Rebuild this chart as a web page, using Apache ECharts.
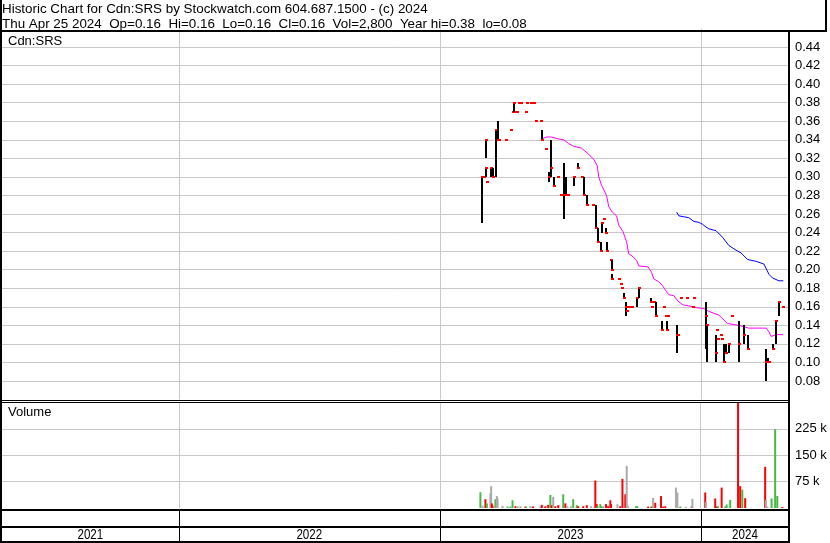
<!DOCTYPE html>
<html><head><meta charset="utf-8">
<script src="https://cdn.jsdelivr.net/npm/echarts@6/dist/echarts.min.js"></script>
<style>html,body{margin:0;padding:0;background:#fff}#c{width:830px;height:543px}</style>
</head><body><div id="c"></div>
<script>
// ---------------- DATA ----------------
var titleLine1 = 'Historic Chart for Cdn:SRS by Stockwatch.com 604.687.1500 - (c) 2024';
var titleLine2 = 'Thu Apr 25 2024  Op=0.16  Hi=0.16  Lo=0.16  Cl=0.16  Vol=2,800  Year hi=0.38  lo=0.08';
var symbolLabel = 'Cdn:SRS';
var volumeLabel = 'Volume';
var yearLabels = ['2021', '2022', '2023', '2024'];
var yearStarts = ['2022-01-01', '2023-01-01', '2024-01-01'];
var axisStart = '2021-04-29';
var axisEnd = '2024-05-03';

var priceDates = ['2023-03-01','2023-03-03','2023-03-06','2023-03-07','2023-03-08','2023-03-13','2023-03-16','2023-03-20','2023-03-23','2023-03-24',
'2023-04-03','2023-04-10','2023-04-13','2023-04-14','2023-04-18','2023-04-19','2023-04-21','2023-04-25','2023-05-02','2023-05-03',
'2023-05-09','2023-05-12','2023-05-15','2023-05-23','2023-05-24','2023-05-30','2023-06-02','2023-06-06','2023-06-09','2023-06-15',
'2023-06-19','2023-06-23','2023-06-26','2023-06-29','2023-07-07','2023-07-13','2023-07-18','2023-07-21','2023-07-26','2023-08-03',
'2023-08-07','2023-08-10','2023-08-14','2023-08-16','2023-08-18','2023-08-21','2023-08-23','2023-08-28','2023-08-29','2023-08-30',
'2023-09-08','2023-09-11','2023-09-12','2023-09-15','2023-09-18','2023-09-19','2023-09-20','2023-09-22','2023-09-26','2023-10-04',
'2023-10-06','2023-10-23','2023-10-24','2023-10-27','2023-10-30','2023-11-08','2023-11-10','2023-11-13','2023-11-15','2023-11-16',
'2023-11-28','2023-11-30','2023-12-04','2023-12-13','2023-12-21','2023-12-22','2024-01-08','2024-01-09','2024-01-22','2024-01-24',
'2024-01-25','2024-01-29','2024-01-31','2024-02-02','2024-02-05','2024-02-09','2024-02-14','2024-02-23','2024-03-01','2024-03-06',
'2024-04-01','2024-04-03','2024-04-05','2024-04-11','2024-04-15','2024-04-19','2024-04-25'];
var priceHigh = [0.30,0.30,0.34,0.31,0.295,0.31,0.31,0.35,0.36,0.34,
0.34,0.35,0.37,0.38,0.37,0.37,0.38,0.38,0.37,0.38,
0.38,0.38,0.36,0.36,0.35,0.33,0.305,0.34,0.30,0.30,
0.28,0.315,0.30,0.28,0.30,0.315,0.30,0.30,0.28,0.27,
0.27,0.245,0.23,0.25,0.255,0.245,0.23,0.21,0.21,0.195,
0.19,0.185,0.18,0.175,0.165,0.155,0.16,0.16,0.16,0.17,
0.18,0.17,0.16,0.165,0.165,0.145,0.16,0.15,0.145,0.15,
0.14,0.13,0.17,0.17,0.16,0.17,0.165,0.14,0.13,0.135,
0.125,0.13,0.125,0.12,0.12,0.12,0.15,0.145,0.14,0.13,
0.115,0.105,0.10,0.12,0.145,0.165,0.16];
var priceLow = [0.25,0.30,0.32,0.30,0.295,0.30,0.30,0.30,0.34,0.34,
0.34,0.35,0.37,0.37,0.37,0.37,0.38,0.38,0.37,0.38,
0.38,0.38,0.36,0.36,0.34,0.33,0.295,0.30,0.29,0.30,
0.28,0.255,0.28,0.28,0.29,0.31,0.30,0.28,0.27,0.27,
0.245,0.23,0.22,0.24,0.255,0.24,0.22,0.21,0.20,0.19,
0.19,0.185,0.18,0.17,0.15,0.155,0.16,0.16,0.16,0.16,
0.17,0.165,0.16,0.165,0.15,0.135,0.16,0.15,0.135,0.15,
0.11,0.13,0.17,0.17,0.16,0.17,0.115,0.10,0.10,0.135,
0.125,0.13,0.125,0.10,0.11,0.11,0.15,0.10,0.12,0.115,
0.08,0.10,0.10,0.115,0.12,0.15,0.16];
var priceClose = [0.30,0.30,0.34,0.31,0.295,0.31,0.30,0.35,0.34,0.34,
0.34,0.35,0.37,0.38,0.37,0.37,0.38,0.38,0.37,0.38,
0.38,0.38,0.36,0.36,0.34,0.33,0.30,0.31,0.29,0.30,
0.28,0.28,0.28,0.28,0.30,0.31,0.30,0.28,0.27,0.27,
0.245,0.23,0.22,0.25,0.255,0.24,0.22,0.21,0.20,0.19,
0.19,0.185,0.18,0.17,0.16,0.155,0.16,0.16,0.16,0.17,
0.18,0.165,0.16,0.165,0.15,0.135,0.16,0.15,0.135,0.15,
0.13,0.13,0.17,0.17,0.16,0.17,0.15,0.14,0.11,0.135,
0.125,0.13,0.125,0.10,0.11,0.12,0.15,0.12,0.13,0.115,
0.10,0.10,0.10,0.115,0.145,0.165,0.16];

var volDates = ['2023-02-27','2023-03-02','2023-03-06','2023-03-08','2023-03-13','2023-03-14','2023-03-15','2023-03-16','2023-03-20','2023-03-22',
'2023-03-23','2023-03-30','2023-04-06','2023-04-10','2023-04-13','2023-04-17','2023-04-20','2023-04-24','2023-05-01','2023-05-02',
'2023-05-08','2023-05-11','2023-05-12','2023-05-22','2023-05-24','2023-05-29','2023-06-02','2023-06-05','2023-06-07','2023-06-09',
'2023-06-12','2023-06-16','2023-06-23','2023-06-26','2023-06-29','2023-07-04','2023-07-07','2023-07-12','2023-07-14','2023-07-21',
'2023-07-26','2023-08-01','2023-08-07','2023-08-09','2023-08-10','2023-08-14','2023-08-16','2023-08-18','2023-08-22','2023-08-25',
'2023-08-28','2023-08-29','2023-09-07','2023-09-11','2023-09-14','2023-09-18','2023-09-20','2023-09-22','2023-10-03','2023-10-05',
'2023-10-20','2023-10-24','2023-10-26','2023-10-27','2023-10-30','2023-11-07','2023-11-10','2023-11-13','2023-11-28','2023-11-30',
'2023-12-04','2023-12-12','2023-12-20','2023-12-21','2024-01-08','2024-01-09','2024-01-22','2024-01-24','2024-01-26','2024-01-31',
'2024-02-05','2024-02-07','2024-02-12','2024-02-23','2024-02-26','2024-02-29','2024-03-04','2024-04-01','2024-04-02','2024-04-04',
'2024-04-10','2024-04-15','2024-04-18','2024-04-25'];
var volumes = [45000,7000,25000,13000,42000,62000,13000,7000,25000,34000,
28000,6000,4000,4000,22000,5000,5000,5000,4000,4000,
5000,5000,4000,5000,9000,5000,9000,37000,8000,32000,
5000,8000,39000,13000,5000,5000,25000,8000,5000,5000,
8000,5000,78000,11000,6000,11000,5000,5000,11000,5000,
22000,11000,11000,5000,83000,39000,120000,5000,5000,5000,
4000,4000,4000,29000,15000,34000,4000,5000,58000,44000,
4000,3000,4000,26000,44000,17000,27000,4000,5000,58000,
4000,10000,23000,330000,62000,52000,28000,117000,22000,4000,
27000,224000,34000,2800];
// 1 = close up, -1 = close down, 0 = unchanged
var volDir = [1,0,-1,1,0,0,-1,-1,1,0,
0,0,1,1,1,-1,0,0,-1,1,
0,0,-1,0,-1,-1,-1,1,-1,0,
-1,-1,1,-1,0,0,1,1,-1,-1,
-1,0,-1,-1,1,1,1,0,-1,-1,
-1,-1,0,-1,-1,-1,0,0,1,1,
-1,1,-1,0,-1,-1,-1,-1,0,0,
1,0,-1,0,-1,0,-1,-1,1,-1,
1,1,1,-1,-1,1,-1,-1,0,0,
1,1,1,-1];

var maShortDates = ['2023-05-23','2023-05-30','2023-06-06','2023-06-15','2023-06-23','2023-06-30','2023-07-07','2023-07-18','2023-07-27','2023-08-04',
'2023-08-09','2023-08-11','2023-08-15','2023-08-22','2023-08-25','2023-08-30','2023-09-05','2023-09-08','2023-09-14','2023-09-19',
'2023-09-22','2023-09-28','2023-10-03','2023-10-06','2023-10-19','2023-10-24','2023-10-27','2023-11-03','2023-11-08','2023-11-14',
'2023-11-17','2023-11-24','2023-11-30','2023-12-07','2023-12-15','2023-12-26','2024-01-05','2024-01-12','2024-01-26','2024-02-07',
'2024-02-23','2024-03-08','2024-04-01','2024-04-05','2024-04-08','2024-04-15','2024-04-25'];
var maShort = [0.341,0.343,0.343,0.341,0.340,0.336,0.333,0.331,0.325,0.319,
0.312,0.300,0.291,0.280,0.268,0.262,0.258,0.248,0.241,0.230,
0.217,0.214,0.210,0.204,0.203,0.197,0.190,0.187,0.183,0.176,
0.173,0.172,0.166,0.162,0.161,0.159,0.158,0.155,0.151,0.142,
0.140,0.137,0.137,0.133,0.128,0.130,0.130];

var maLongDates = ['2023-11-28','2023-12-01','2023-12-08','2023-12-15','2023-12-22','2023-12-29','2024-01-03','2024-01-08','2024-01-12','2024-01-22',
'2024-01-31','2024-02-09','2024-02-19','2024-02-26','2024-03-06','2024-03-18','2024-03-29','2024-04-05','2024-04-10','2024-04-19','2024-04-25'];
var maLong = [0.262,0.258,0.257,0.256,0.252,0.251,0.249,0.246,0.244,0.242,
0.235,0.226,0.221,0.218,0.211,0.209,0.206,0.195,0.191,0.188,0.188];

// ---------------- BUILD ----------------
var FONT = '"Liberation Sans", Arial, sans-serif';
var ohlcData = priceDates.map(function (d, i) { return [d, priceHigh[i], priceLow[i], priceClose[i]]; });
var volData = volDates.map(function (d, i) {
  var c = volDir[i] > 0 ? '#44bb44' : (volDir[i] < 0 ? '#ff0000' : '#aaaaaa');
  return { value: [d, volumes[i]], itemStyle: { color: c } };
});
var maShortData = maShortDates.map(function (d, i) { return [d, maShort[i]]; });
var maLongData = maLongDates.map(function (d, i) { return [d, maLong[i]]; });
var dividerData = yearStarts.map(function (d) { return [d, 0]; });
var yearData = yearLabels.map(function (y) { return [y + '-01-01', (+y + 1) + '-01-01', 0]; });

function renderOHLC(params, api) {
  var t = api.value(0);
  var pH = api.coord([t, api.value(1)]);
  var pL = api.coord([t, api.value(2)]);
  var pC = api.coord([t, api.value(3)]);
  var x = Math.round(pH[0]);
  var ch = [];
  var yh = Math.round(pH[1]), yl = Math.round(pL[1]);
  if (yl - yh >= 1) ch.push({ type: 'rect', shape: { x: x - 1, y: yh, width: 2, height: yl - yh }, style: { fill: '#000' } });
  ch.push({ type: 'rect', shape: { x: x - 1, y: Math.round(pC[1]) - 1, width: 3, height: 2 }, style: { fill: '#ff0000' } });
  return { type: 'group', children: ch };
}
function dividerRenderer(color) {
  return function (params, api) {
    var cs = params.coordSys;
    var x = Math.round(api.coord([api.value(0), 0])[0]) + 0.5;
    return { type: 'line', shape: { x1: x, y1: cs.y, x2: x, y2: cs.y + cs.height }, style: { stroke: color, lineWidth: 1 } };
  };
}
function renderYear(params, api) {
  var cs = params.coordSys;
  var x0 = Math.max(cs.x, api.coord([api.value(0), 0])[0]);
  var x1 = Math.min(cs.x + cs.width, api.coord([api.value(1), 0])[0]);
  return { type: 'text', x: (x0 + x1) / 2, y: cs.y + cs.height - 6.8, scaleX: 0.8,
    style: { text: yearLabels[params.dataIndex], x: 0, y: 0,
    align: 'center', verticalAlign: 'middle', fill: '#000', font: '14.5px ' + FONT } };
}

var hiddenX = function (gi) {
  return { type: 'time', gridIndex: gi, min: axisStart, max: axisEnd, axisLine: { show: false }, axisTick: { show: false },
    axisLabel: { show: false }, splitLine: { show: false } };
};

var chart = echarts.init(document.getElementById('c'), null, { renderer: 'canvas' });
chart.setOption({
  animation: false,
  backgroundColor: '#fff',
  grid: [
    { left: 2, right: 41, top: 28.44, height: 371.12 },
    { left: 2, right: 41, top: 402.5, height: 105.5 },
    { left: 2, right: 41, top: 510.5, height: 31 }
  ],
  xAxis: [hiddenX(0), hiddenX(1), hiddenX(2)],
  yAxis: [
    { type: 'value', gridIndex: 0, position: 'right', min: 0.06, max: 0.46, interval: 0.02,
      axisLine: { show: false }, axisTick: { show: false },
      axisLabel: { margin: 6, color: '#000', fontSize: 13, fontFamily: FONT, showMinLabel: false, showMaxLabel: false,
        formatter: function (v) { return v.toFixed(2); } },
      splitLine: { show: true, showMinLine: false, showMaxLine: false, lineStyle: { color: '#c8c8c8', width: 1 } } },
    { type: 'value', gridIndex: 1, position: 'right', min: 0, max: 300000, interval: 75000,
      axisLine: { show: false }, axisTick: { show: false },
      axisLabel: { margin: 6, color: '#000', fontSize: 13, fontFamily: FONT, showMinLabel: false, showMaxLabel: false,
        formatter: function (v) { return (v / 1000) + ' k'; } },
      splitLine: { show: true, showMinLine: false, showMaxLine: false, lineStyle: { color: '#c8c8c8', width: 1 } } },
    { type: 'value', gridIndex: 2, min: 0, max: 1, show: false }
  ],
  series: [
    { type: 'custom', xAxisIndex: 0, yAxisIndex: 0, z: 1, data: dividerData, renderItem: dividerRenderer('#c8c8c8'), silent: true },
    { type: 'custom', xAxisIndex: 1, yAxisIndex: 1, z: 1, data: dividerData, renderItem: dividerRenderer('#c8c8c8'), silent: true },
    { type: 'custom', xAxisIndex: 2, yAxisIndex: 2, z: 1, data: dividerData, renderItem: dividerRenderer('#000'), silent: true },
    { type: 'custom', xAxisIndex: 2, yAxisIndex: 2, z: 3, data: yearData, encode: { x: [0, 1], y: 2 }, renderItem: renderYear, silent: true },
    { type: 'line', xAxisIndex: 0, yAxisIndex: 0, data: maShortData, showSymbol: false, z: 3,
      lineStyle: { color: '#ff00ff', width: 1 }, silent: true },
    { type: 'line', xAxisIndex: 0, yAxisIndex: 0, data: maLongData, showSymbol: false, z: 3,
      lineStyle: { color: '#0000ff', width: 1 }, silent: true },
    { type: 'custom', xAxisIndex: 0, yAxisIndex: 0, z: 4, data: ohlcData, encode: { x: 0, y: [1, 2, 3] }, renderItem: renderOHLC, silent: true },
    { type: 'bar', xAxisIndex: 1, yAxisIndex: 1, data: volData, barWidth: 2, z: 3, silent: true }
  ],
  graphic: [
    { type: 'rect', z: 100, shape: { x: 0, y: 0, width: 2, height: 543 }, style: { fill: '#000' } },
    { type: 'rect', z: 100, shape: { x: 0, y: 30, width: 827, height: 2 }, style: { fill: '#000' } },
    { type: 'rect', z: 100, shape: { x: 825, y: 0, width: 2, height: 31 }, style: { fill: '#000' } },
    { type: 'rect', z: 100, shape: { x: 788, y: 30, width: 2, height: 513 }, style: { fill: '#000' } },
    { type: 'rect', z: 100, shape: { x: 0, y: 400, width: 790, height: 1 }, style: { fill: '#000' } },
    { type: 'rect', z: 100, shape: { x: 0, y: 402, width: 790, height: 1 }, style: { fill: '#000' } },
    { type: 'rect', z: 100, shape: { x: 0, y: 509, width: 790, height: 2 }, style: { fill: '#000' } },
    { type: 'rect', z: 100, shape: { x: 0, y: 526, width: 790, height: 2 }, style: { fill: '#000' } },
    { type: 'rect', z: 100, shape: { x: 0, y: 541, width: 790, height: 2 }, style: { fill: '#000' } },
    { type: 'text', z: 100, x: 2, y: 9.5, style: { text: titleLine1, font: '13.4px ' + FONT, fill: '#000', verticalAlign: 'middle' } },
    { type: 'text', z: 100, x: 2, y: 24.2, style: { text: titleLine2, font: '13.4px ' + FONT, fill: '#000', verticalAlign: 'middle' } },
    { type: 'text', z: 100, x: 8, y: 41.7, style: { text: symbolLabel, font: '13px ' + FONT, fill: '#000', verticalAlign: 'middle' } },
    { type: 'text', z: 100, x: 8, y: 412.8, style: { text: volumeLabel, font: '13px ' + FONT, fill: '#000', verticalAlign: 'middle' } }
  ]
});
</script></body></html>
